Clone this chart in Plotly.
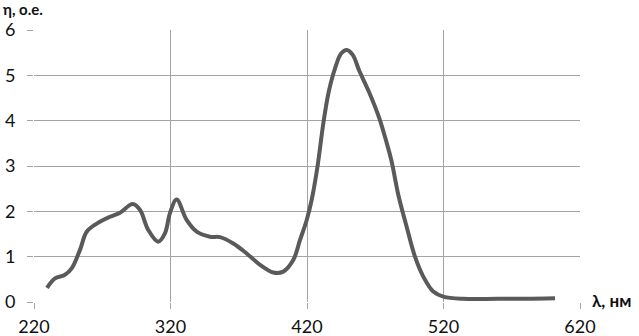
import plotly.graph_objects as go

wavelength = [229.5, 235.4, 242.7, 247.6, 253.7, 258.6, 266.0, 275.7, 283.0, 292.3, 297.7,
              303.7, 311.0, 316.0, 319.6, 324.5, 331.8, 339.2, 348.9, 356.3, 366.0, 375.8,
              385.6, 395.3, 402.6, 410.0, 414.9, 419.8, 423.4, 427.5, 432.0, 436.0, 440.5,
              445.0, 449.1, 453.5, 458.3, 465.6, 473.0, 478.0, 482.0, 487.0, 493.0, 499.1,
              505.2, 512.5, 519.9, 534.5, 560.0, 580.0, 601.7]
eta = [0.31, 0.52, 0.60, 0.74, 1.15, 1.55, 1.73, 1.88, 1.97, 2.16, 2.03,
       1.59, 1.33, 1.52, 1.96, 2.26, 1.81, 1.55, 1.44, 1.43, 1.29, 1.07,
       0.82, 0.65, 0.67, 0.93, 1.37, 1.81, 2.25, 2.95, 3.95, 4.65, 5.15,
       5.48, 5.56, 5.45, 5.10, 4.62, 4.05, 3.55, 3.10, 2.35, 1.66, 1.00,
       0.56, 0.23, 0.12, 0.07, 0.07, 0.07, 0.08]

x_ticks = [220, 320, 420, 520, 620]
y_ticks = [0, 1, 2, 3, 4, 5, 6]

grid = "#a3a3a3"
font = "Lato"

fig = go.Figure(go.Scatter(x=wavelength, y=eta, mode="lines",
                           line=dict(color="#5a5a5a", width=4, shape="spline", smoothing=1.0),
                           hoverinfo="skip"))

fig.update_layout(
    width=639, height=336,
    margin=dict(l=34, r=59, t=30, b=34),
    paper_bgcolor="white", plot_bgcolor="white",
    showlegend=False,
    font=dict(family=font, size=18, color="#111"),
    xaxis=dict(range=[220, 620], tickvals=x_ticks, showgrid=True, gridcolor=grid, gridwidth=1.3,
               zeroline=False, showline=False, ticks="outside", ticklen=6, tickcolor=grid,
               tickwidth=1.3, ticklabelstandoff=2, automargin=False),
    yaxis=dict(range=[0, 6], tickvals=y_ticks, showgrid=True, gridcolor=grid, gridwidth=1.3,
               zeroline=False, showline=False, ticks="outside", ticklen=6, tickcolor=grid,
               tickwidth=1.3, ticklabelstandoff=8, automargin=False),
    annotations=[
        dict(text="<b>η, o.e.</b>", xref="paper", yref="paper", x=-33/546, y=1 + 20.5/272,
             xanchor="left", yanchor="middle", showarrow=False, font=dict(size=15, family=font)),
        dict(text="<b>λ, нм</b>", xref="paper", yref="paper", x=1 + 10/546, y=2/272,
             xanchor="left", yanchor="middle", showarrow=False, font=dict(size=17, family=font)),
    ],
)

fig.write_html("out.html", config={"displayModeBar": False},
               post_script="document.body.style.margin='0';document.body.style.overflow='hidden';")
